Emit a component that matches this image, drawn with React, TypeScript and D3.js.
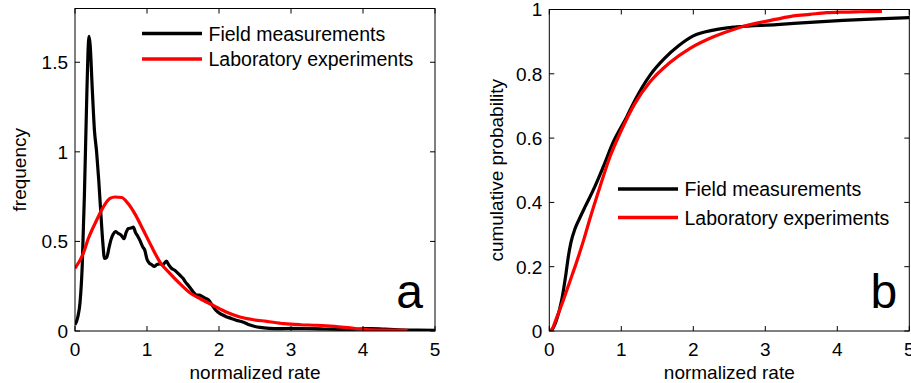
import React, { useEffect, useRef } from 'react';
import * as d3 from 'd3';

type Pt = [number, number];

const xTicks = [0, 1, 2, 3, 4, 5];
const freqTicks = [0, 0.5, 1, 1.5];
const cumTicks = [0, 0.2, 0.4, 0.6, 0.8, 1];
const seriesNames = ['Field measurements', 'Laboratory experiments'];
const seriesColors = ['#000000', '#ff0000'];

// panel a: frequency (density) of the normalized rate
const fieldFreq: Pt[] = [
  [0, 0.035], [0.04, 0.08], [0.07, 0.16], [0.1, 0.36], [0.13, 0.75], [0.16, 1.25], [0.18, 1.55],
  [0.195, 1.645], [0.21, 1.6], [0.24, 1.35], [0.27, 1.12], [0.3, 1.0], [0.33, 0.84], [0.36, 0.65],
  [0.385, 0.5], [0.41, 0.405], [0.44, 0.41], [0.47, 0.46], [0.5, 0.51], [0.53, 0.54], [0.56, 0.555],
  [0.6, 0.545], [0.64, 0.535], [0.68, 0.515], [0.71, 0.55], [0.74, 0.572], [0.78, 0.575], [0.81, 0.58],
  [0.84, 0.55], [0.87, 0.53], [0.9, 0.507], [0.94, 0.47], [0.97, 0.45], [1.0, 0.4], [1.03, 0.38],
  [1.065, 0.37], [1.1, 0.36], [1.134, 0.37], [1.18, 0.375], [1.22, 0.37], [1.27, 0.39], [1.3, 0.37],
  [1.34, 0.35], [1.38, 0.34], [1.41, 0.33], [1.46, 0.31], [1.5, 0.294], [1.54, 0.27], [1.57, 0.256],
  [1.62, 0.23], [1.66, 0.21], [1.69, 0.2], [1.73, 0.2], [1.76, 0.195], [1.8, 0.185], [1.85, 0.175],
  [1.88, 0.16], [1.92, 0.135], [1.96, 0.115], [2.01, 0.098], [2.06, 0.088], [2.1, 0.08], [2.17, 0.07],
  [2.24, 0.06], [2.33, 0.05], [2.43, 0.033], [2.5, 0.025], [2.57, 0.02], [2.7, 0.015], [2.85, 0.013],
  [3.0, 0.015], [3.2, 0.014], [3.4, 0.012], [3.6, 0.01], [3.8, 0.009], [4.0, 0.012], [4.1, 0.014],
  [4.3, 0.01], [4.5, 0.007], [4.75, 0.005], [5.0, 0.004],
];

const labFreq: Pt[] = [
  [0, 0.35], [0.115, 0.433], [0.185, 0.516], [0.3, 0.618], [0.39, 0.69], [0.486, 0.74], [0.556, 0.748],
  [0.648, 0.745], [0.74, 0.71], [0.83, 0.655], [0.95, 0.562], [1.065, 0.47], [1.18, 0.385], [1.32, 0.32],
  [1.46, 0.263], [1.6, 0.212], [1.74, 0.18], [1.92, 0.143], [2.1, 0.106], [2.29, 0.078], [2.48, 0.063],
  [2.66, 0.054], [2.9, 0.041], [3.13, 0.035], [3.36, 0.032], [3.6, 0.026], [3.82, 0.017], [4.05, 0.008],
  [4.28, 0.005], [4.62, 0.004],
];

// panel b: cumulative probability
const fieldCum: Pt[] = [
  [0, 0], [0.033, 0.003], [0.1, 0.034], [0.172, 0.096], [0.232, 0.179], [0.264, 0.231], [0.3, 0.275],
  [0.357, 0.318], [0.42, 0.35], [0.496, 0.386], [0.61, 0.438], [0.75, 0.511], [0.889, 0.588],
  [1.075, 0.666], [1.19, 0.718], [1.4, 0.796], [1.6, 0.848], [1.8, 0.888], [2.0, 0.918], [2.28, 0.936],
  [2.6, 0.946], [3.16, 0.953], [3.62, 0.96], [4.08, 0.966], [4.55, 0.971], [5.0, 0.975],
];

const labCum: Pt[] = [
  [0, 0], [0.03, 0.003], [0.1, 0.04], [0.195, 0.096], [0.287, 0.155], [0.38, 0.215], [0.48, 0.285],
  [0.565, 0.35], [0.704, 0.449], [0.843, 0.542], [0.982, 0.615], [1.19, 0.708], [1.4, 0.775],
  [1.676, 0.835], [1.955, 0.879], [2.28, 0.915], [2.6, 0.941], [3.16, 0.97], [3.39, 0.98], [3.62, 0.985],
  [3.85, 0.99], [4.08, 0.992], [4.31, 0.993], [4.62, 0.994],
];

const FONT = '"Liberation Sans", Arial, sans-serif';

const App = () => {
  const ref = useRef<SVGSVGElement>(null);

  useEffect(() => {
    const svg = d3.select(ref.current);
    svg.selectAll('*').remove();

    const panels = [
      {
        id: 'a', left: 75, right: 435, top: 8.5, bottom: 331, yMax: 1.8, yTicks: freqTicks,
        yLabel: 'frequency', yLabelX: 26, series: [fieldFreq, labFreq],
        legend: { x0: 142, x1: 202, rows: [33.5, 59] },
      },
      {
        id: 'b', left: 549.3, right: 909.3, top: 9.5, bottom: 331, yMax: 1, yTicks: cumTicks,
        yLabel: 'cumulative probability', yLabelX: 503, series: [fieldCum, labCum],
        legend: { x0: 618, x1: 678, rows: [189, 217.5] },
      },
    ];

    panels.forEach(p => {
      const x = d3.scaleLinear().domain([0, 5]).range([p.left, p.right]);
      const y = d3.scaleLinear().domain([0, p.yMax]).range([p.bottom, p.top]);
      const g = svg.append('g');

      g.append('clipPath').attr('id', `clip-${p.id}`)
        .append('rect')
        .attr('x', p.left).attr('y', p.top)
        .attr('width', p.right - p.left).attr('height', p.bottom - p.top);

      // data lines
      const line = d3.line<Pt>()
        .x(d => x(d[0]))
        .y(d => y(d[1]))
        .curve(d3.curveMonotoneX);

      p.series.forEach((s, i) => {
        g.append('path')
          .datum(s)
          .attr('clip-path', `url(#clip-${p.id})`)
          .attr('fill', 'none')
          .attr('stroke', seriesColors[i])
          .attr('stroke-width', 3.2)
          .attr('stroke-linejoin', 'round')
          .attr('d', line);
      });

      // box
      g.append('rect')
        .attr('x', p.left).attr('y', p.top)
        .attr('width', p.right - p.left).attr('height', p.bottom - p.top)
        .attr('fill', 'none').attr('stroke', '#000').attr('stroke-width', 1);

      // inward ticks on all four sides (matlab style)
      const tl = 5;
      xTicks.forEach(t => {
        g.append('line').attr('x1', x(t)).attr('x2', x(t)).attr('y1', p.bottom).attr('y2', p.bottom - tl).attr('stroke', '#000');
        g.append('line').attr('x1', x(t)).attr('x2', x(t)).attr('y1', p.top).attr('y2', p.top + tl).attr('stroke', '#000');
        g.append('text')
          .attr('x', x(t)).attr('y', 356)
          .attr('text-anchor', 'middle')
          .style('font-family', FONT).style('font-size', '19px')
          .text(String(t));
      });
      p.yTicks.forEach(t => {
        g.append('line').attr('x1', p.left).attr('x2', p.left + tl).attr('y1', y(t)).attr('y2', y(t)).attr('stroke', '#000');
        g.append('line').attr('x1', p.right).attr('x2', p.right - tl).attr('y1', y(t)).attr('y2', y(t)).attr('stroke', '#000');
        g.append('text')
          .attr('x', p.left - 7).attr('y', y(t)).attr('dy', '0.36em')
          .attr('text-anchor', 'end')
          .style('font-family', FONT).style('font-size', '19px')
          .text(String(t));
      });

      // axis labels
      g.append('text')
        .attr('x', (p.left + p.right) / 2).attr('y', 379)
        .attr('text-anchor', 'middle')
        .style('font-family', FONT).style('font-size', '19px')
        .text('normalized rate');
      g.append('text')
        .attr('transform', `translate(${p.yLabelX},${(p.top + p.bottom) / 2}) rotate(-90)`)
        .attr('text-anchor', 'middle')
        .style('font-family', FONT).style('font-size', '19px')
        .text(p.yLabel);

      // legend
      p.legend.rows.forEach((ry, i) => {
        g.append('line')
          .attr('x1', p.legend.x0).attr('x2', p.legend.x1)
          .attr('y1', ry).attr('y2', ry)
          .attr('stroke', seriesColors[i]).attr('stroke-width', 3.5);
        g.append('text')
          .attr('x', p.legend.x1 + 6.5).attr('y', ry).attr('dy', '0.36em')
          .style('font-family', FONT).style('font-size', '19.5px')
          .text(seriesNames[i]);
      });

      // panel letter
      g.append('text')
        .attr('x', p.right - 12).attr('y', 308)
        .attr('text-anchor', 'end')
        .style('font-family', FONT).style('font-size', '48px')
        .text(p.id);
    });
  }, []);

  return (
    <svg
      ref={ref}
      width={911}
      height={383}
      style={{ position: 'absolute', left: 0, top: 0, background: '#fff' }}
    />
  );
};

export default App;
